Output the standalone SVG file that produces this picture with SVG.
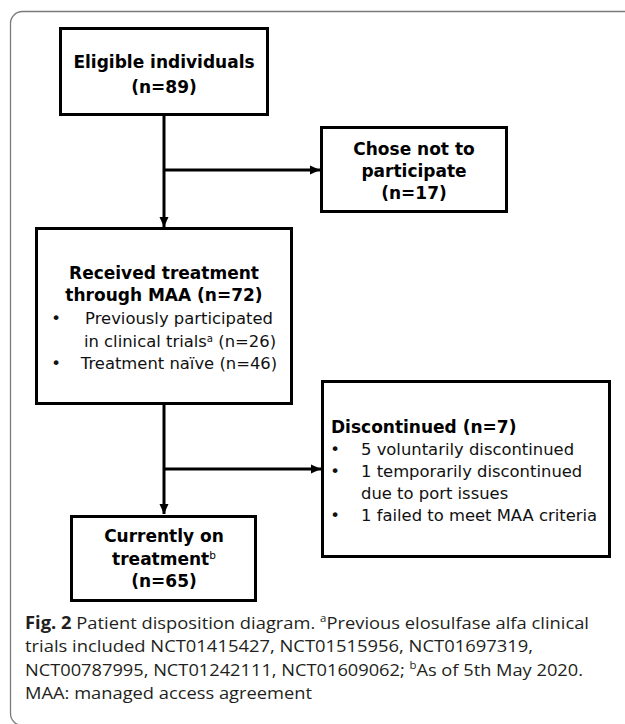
<svg xmlns="http://www.w3.org/2000/svg" width="625" height="724" viewBox="0 0 625 724">
<defs>
<style>
.box{fill:#fff;stroke:#000;stroke-width:3}
.b{font-family:"DejaVu Sans",Verdana,sans-serif;font-weight:bold;font-size:17px;fill:#000}
.r{font-family:"DejaVu Sans",Verdana,sans-serif;font-size:16.4px;fill:#111}
.c{text-anchor:middle}
.cap{font-family:"Open Sans","Noto Sans",sans-serif;font-size:17px;fill:#231f20}
.sup{font-size:62%;baseline-shift:super;font-weight:normal}
.conn line{stroke:#000;stroke-width:3}
</style>
<marker id="ah" markerUnits="userSpaceOnUse" markerWidth="10" markerHeight="10" viewBox="0 0 10 10" refX="10" refY="5" orient="auto">
<path d="M0,0.5 L10,5 L0,9.5 Z" fill="#000"/>
</marker>
</defs>
<rect x="10.5" y="11.5" width="700" height="714" rx="12" fill="#fff" stroke="#7a7a7a" stroke-width="1.3"/>
<g class="conn">
<line x1="164" y1="116" x2="164" y2="227" marker-end="url(#ah)"/>
<line x1="164" y1="170" x2="320" y2="170" marker-end="url(#ah)"/>
<line x1="164" y1="405" x2="164" y2="514" marker-end="url(#ah)"/>
<line x1="164" y1="469" x2="321" y2="469" marker-end="url(#ah)"/>
</g>
<g id="eligible">
<rect class="box" x="60.5" y="28.5" width="207" height="86"/>
<text class="b c" x="164" y="68">Eligible individuals</text>
<text class="b c" x="164" y="93">(n=89)</text>
</g>
<g id="chose">
<rect class="box" x="321.5" y="127.5" width="185" height="84"/>
<text class="b c" x="414" y="155">Chose not to</text>
<text class="b c" x="414" y="177">participate</text>
<text class="b c" x="414" y="199">(n=17)</text>
</g>
<g id="received">
<rect class="box" x="36.5" y="228.5" width="255" height="175"/>
<text class="b c" x="164" y="279">Received treatment</text>
<text class="b c" x="164" y="301">through MAA (n=72)</text>
<text class="r c" x="56" y="324">•</text>
<text class="r c" x="179" y="324">Previously participated</text>
<text class="r c" x="180" y="347">in clinical trials<tspan class="sup">a</tspan> (n=26)</text>
<text class="r c" x="56" y="369">•</text>
<text class="r c" x="179" y="369">Treatment naïve (n=46)</text>
</g>
<g id="discontinued">
<rect class="box" x="322.5" y="381.5" width="287" height="175"/>
<text class="b" x="331" y="433">Discontinued (n=7)</text>
<text class="r c" x="335" y="455">•</text>
<text class="r" x="361" y="455">5 voluntarily discontinued</text>
<text class="r c" x="335" y="477">•</text>
<text class="r" x="361" y="477">1 temporarily discontinued</text>
<text class="r" x="361" y="499">due to port issues</text>
<text class="r c" x="335" y="521">•</text>
<text class="r" x="361" y="521">1 failed to meet MAA criteria</text>
</g>
<g id="current">
<rect class="box" x="71.5" y="516.5" width="184" height="84"/>
<text class="b c" x="164" y="542">Currently on</text>
<text class="b c" x="164" y="565">treatment<tspan class="sup">b</tspan></text>
<text class="b c" x="164" y="587">(n=65)</text>
</g>
<g id="caption">
<text class="cap" x="25" y="629" textLength="564" lengthAdjust="spacingAndGlyphs"><tspan font-weight="bold">Fig. 2</tspan>  Patient disposition diagram. <tspan class="sup">a</tspan>Previous elosulfase alfa clinical</text>
<text class="cap" x="25" y="652" textLength="508" lengthAdjust="spacingAndGlyphs">trials included NCT01415427, NCT01515956, NCT01697319,</text>
<text class="cap" x="25" y="676" textLength="558" lengthAdjust="spacingAndGlyphs">NCT00787995, NCT01242111, NCT01609062; <tspan class="sup">b</tspan>As of 5th May 2020.</text>
<text class="cap" x="25" y="699" textLength="287" lengthAdjust="spacingAndGlyphs">MAA: managed access agreement</text>
</g>
</svg>
